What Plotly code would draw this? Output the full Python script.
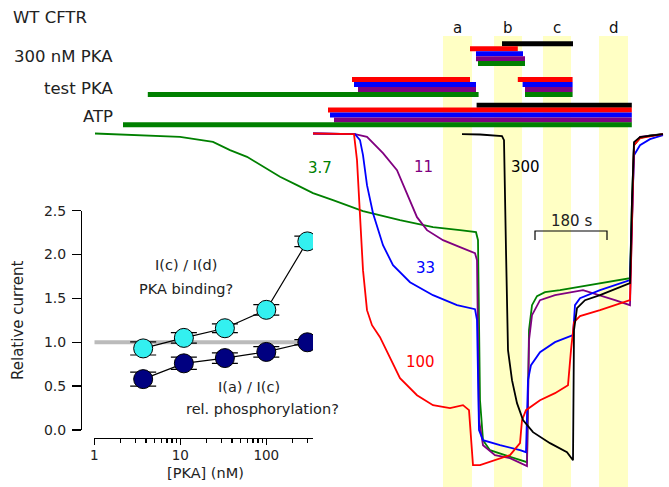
import plotly.graph_objects as go

W, H = 669, 487
FONT = "DejaVu Sans"

# ---------------- time-course traces: time (s), current (nA) ----------------
t_37 = [-70, 60, 142.5, 225, 267.5, 310, 350, 392.5, 435, 475, 525, 600, 692.5, 775, 842.5, 882.5,
        887.5, 892.5, 900, 917.5, 955, 992.5, 1010, 1015, 1022.5, 1035, 1055, 1092.5, 1150, 1192.5,
        1230, 1267.5, 1272.5, 1277.5, 1292.5, 1317.5, 1350]
i_37 = [0, -0.05, -0.10, -0.25, -0.50, -0.70, -1.00, -1.30, -1.55, -1.79, -2.00, -2.33, -2.60, -2.81,
        -2.90, -2.96, -3.20, -8.0, -9.2, -9.5, -9.65, -9.8, -9.86, -5.9, -5.15, -4.88, -4.76, -4.70,
        -4.58, -4.49, -4.40, -4.34, -2.0, -0.35, -0.14, -0.06, -0.02]

t_11 = [475, 580, 610, 650, 685, 710, 735, 760, 800, 842.5, 880, 885, 890, 900, 930, 967.5, 1005,
        1010, 1015, 1022.5, 1042.5, 1080, 1150, 1192.5, 1230, 1267.5, 1272.5, 1277.5, 1292.5, 1350]
i_11 = [0, -0.02, -0.10, -0.59, -1.10, -1.79, -2.51, -2.90, -3.20, -3.41, -3.59, -3.80, -8.60, -9.35,
        -9.65, -9.74, -9.95, -9.98, -6.20, -5.45, -5.00, -4.85, -4.70, -4.85, -5.00, -5.15, -2.30,
        -0.35, -0.10, -0.02]

t_33 = [475, 580, 592.5, 600, 610, 625, 650, 675, 717.5, 775, 835, 880, 885, 890, 900, 942.5, 992.5,
        1007.5, 1012.5, 1020, 1042.5, 1080, 1125, 1130, 1142.5, 1192.5, 1267.5, 1272.5, 1277.5,
        1292.5, 1317.5, 1350]
i_33 = [0, -0.02, -0.20, -0.65, -1.55, -2.39, -3.35, -3.95, -4.46, -4.85, -5.15, -5.27, -5.60, -8.90,
        -9.20, -9.35, -9.50, -9.56, -7.40, -6.95, -6.56, -6.26, -6.05, -5.15, -4.94, -4.70, -4.40,
        -2.30, -0.65, -0.35, -0.17, -0.05]

t_100 = [475, 577.5, 585, 592.5, 600, 610, 622.5, 642.5, 667.5, 692.5, 735, 775, 817.5, 850, 865, 870,
         875, 892.5, 930, 967.5, 992.5, 997.5, 1007.5, 1042.5, 1080, 1112.5, 1120, 1127.5, 1142.5,
         1192.5, 1267.5, 1272.5, 1277.5, 1292.5, 1350]
i_100 = [0, -0.02, -0.80, -2.60, -4.10, -5.30, -5.75, -6.11, -6.74, -7.34, -7.85, -8.15, -8.24, -8.15,
         -8.30, -9.20, -9.95, -9.95, -9.80, -9.65, -9.29, -8.60, -8.30, -8.00, -7.79, -7.55, -6.50,
         -5.66, -5.48, -5.30, -5.00, -2.30, -0.35, -0.14, -0.02]

t_300 = [847.5, 892.5, 947.5, 952.5, 957.5, 962.5, 972.5, 985, 1000, 1025, 1067.5, 1110, 1125, 1127.5,
         1135, 1155, 1192.5, 1267.5, 1272.5, 1277.5, 1292.5, 1350]
i_300 = [-0.02, -0.03, -0.08, -0.20, -3.50, -6.50, -7.40, -8.09, -8.60, -8.96, -9.29, -9.56, -9.80,
         -5.90, -5.24, -5.00, -4.85, -4.49, -2.00, -0.26, -0.11, -0.02]

trace_labels = ["3.7", "11", "33", "100", "300"]
trace_colors = ["#008000", "#800080", "#0000FF", "#FF0000", "#000000"]

# ---------------- solution application intervals (s) ----------------
# order of bars within each group: 300, 100, 33, 11, 3.7
atp_starts = [884, 512.5, 517.5, 527.5, 0]
atp_ends = [1272, 1272, 1272, 1272, 1272]
test_pka_1 = [None, (572.5, 867.5), (577.5, 882.5), (587.5, 882.5), (62, 889)]
test_pka_2 = [None, (987, 1124), (999, 1124), (1005, 1124), (1005, 1124)]
pka300 = [(947.5, 1125), (867.5, 987), (882.5, 1000), (882.5, 1005), (887.5, 1005)]
bar_colors = ["#000000", "#FF0000", "#0000FF", "#800080", "#008000"]

band_names = ["a", "b", "c", "d"]
band_start = [800, 927.5, 1050, 1190]
band_end = [872.5, 997.5, 1120, 1262.5]

scale_bar_s = [1030, 1210]   # 180 s

# ---------------- inset dose-response ----------------
pka_nM = [3.7, 11, 33, 100, 300]
ratio_cd = [0.93, 1.05, 1.16, 1.37, 2.15]
ratio_cd_err = [0.075, 0.06, 0.05, 0.06, 0.06]
ratio_ac = [0.58, 0.76, 0.82, 0.89, 1.00]
ratio_ac_err = [0.08, 0.07, 0.06, 0.06, 0.03]
ref_line_x = [1, 300]
ref_line_y = [1.0, 1.0]


def PX(px):
    return px / W


def PY(py):
    return 1 - py / H


fig = go.Figure()

# main traces
for t, i, c in [(t_37, i_37, trace_colors[0]), (t_11, i_11, trace_colors[1]),
                (t_33, i_33, trace_colors[2]), (t_100, i_100, trace_colors[3]),
                (t_300, i_300, trace_colors[4])]:
    fig.add_trace(go.Scatter(x=t, y=i, mode="lines", line=dict(color=c, width=1.8),
                             xaxis="x", yaxis="y", showlegend=False, hoverinfo="skip"))

# 180 s scale bar
fig.add_trace(go.Scatter(x=[scale_bar_s[0], scale_bar_s[0], scale_bar_s[1], scale_bar_s[1]],
                         y=[-3.195, -2.925, -2.925, -3.195], mode="lines",
                         line=dict(color="black", width=1.2), xaxis="x", yaxis="y",
                         showlegend=False, hoverinfo="skip"))

# inset
fig.add_trace(go.Scatter(x=ref_line_x, y=ref_line_y, mode="lines",
                         line=dict(color="#BBBBBB", width=4), xaxis="x2", yaxis="y2",
                         showlegend=False, hoverinfo="skip"))
for y, e, col in [(ratio_cd, ratio_cd_err, "#33F0F0"), (ratio_ac, ratio_ac_err, "#000080")]:
    fig.add_trace(go.Scatter(x=pka_nM, y=y, mode="lines+markers",
                             line=dict(color="black", width=1.2),
                             marker=dict(size=19, color=col, line=dict(color="black", width=1)),
                             error_y=dict(type="data", array=e, color="black", thickness=1.2, width=13),
                             xaxis="x2", yaxis="y2", showlegend=False, hoverinfo="skip"))

shapes = []
# yellow bands
for s, e in zip(band_start, band_end):
    shapes.append(dict(type="rect", xref="x", yref="paper", x0=s, x1=e, y0=0, y1=PY(36),
                       fillcolor="#FFFFC4", line=dict(width=0), layer="below"))


def bar(x0, x1, top, color, h=5.0):
    shapes.append(dict(type="rect", xref="x", yref="paper", x0=x0, x1=x1,
                       y0=PY(top + h), y1=PY(top), fillcolor=color, line=dict(width=0)))


# 300 nM PKA rows
for k, iv in enumerate(pka300):
    bar(iv[0], iv[1], 41.3 + 4.95 * k, bar_colors[k])
# test PKA rows
row = 0
for k in range(5):
    if test_pka_1[k] is None:
        continue
    top = 77 + 5 * row
    bar(test_pka_1[k][0], test_pka_1[k][1], top, bar_colors[k])
    bar(test_pka_2[k][0], test_pka_2[k][1], top, bar_colors[k])
    row += 1
# ATP rows
for k in range(5):
    bar(atp_starts[k], atp_ends[k], 102.7 + 4.9 * k, bar_colors[k])

ann = []


def text(s, px, py, size=15, color="#222222", xanchor="center", angle=0):
    ann.append(dict(text=s, x=PX(px), y=PY(py), xref="paper", yref="paper", showarrow=False,
                    xanchor=xanchor, yanchor="middle", textangle=angle, borderpad=0,
                    font=dict(family=FONT, size=size, color=color)))


text("WT CFTR", 12, 18, size=16.5, xanchor="left")
text("300 nM PKA", 114, 56, size=16.5, xanchor="right")
text("test PKA", 114, 88, size=16.5, xanchor="right")
text("ATP", 114, 117, size=16.5, xanchor="right")
for n, s, e in zip(band_names, band_start, band_end):
    ann.append(dict(text=n, x=(s + e) / 2, y=PY(28), xref="x", yref="paper", showarrow=False,
                    xanchor="center", yanchor="middle", borderpad=0,
                    font=dict(family=FONT, size=15, color="#111")))
label_pos = [(320, 168), (423, 167), (425, 268), (420, 362), (525, 167)]
for lab, c, (px, py) in zip(trace_labels, trace_colors, label_pos):
    text(lab, px, py, size=15, color=c)
text("180 s", 571, 221, size=15)
text("I(c) / I(d)", 186, 265, size=14.5)
text("PKA binding?", 186, 289, size=14.5)
text("I(a) / I(c)", 249, 387, size=14.5)
text("rel. phosphorylation?", 262, 409, size=14.5)
text("Relative current", 18, 321, size=15, angle=-90)
text("[PKA] (nM)", 205, 473, size=14.5)

fig.update_layout(
    width=W, height=H, margin=dict(l=0, r=0, t=0, b=0, pad=0, autoexpand=False),
    paper_bgcolor="white", plot_bgcolor="rgba(0,0,0,0)",
    font=dict(family=FONT, size=14, color="#222222"),
    showlegend=False,
    xaxis=dict(domain=[0, 1], range=[-307.5, 1365], visible=False, fixedrange=True),
    yaxis=dict(domain=[0, 1], range=[-10.605, 4.005], visible=False, fixedrange=True),
    xaxis2=dict(type="log", domain=[PX(94.3), PX(313)], range=[0, 2.543], anchor="free",
                position=PY(438), showline=True, linecolor="black", linewidth=1.3,
                ticks="outside", ticklen=6, tickwidth=1.3, tickcolor="black",
                tickmode="array", tickvals=[1, 10, 100], ticktext=["1", "10", "100"],
                minor=dict(ticks="outside", ticklen=4, tickwidth=1.2, tickcolor="black",
                           tickmode="array",
                           tickvals=[2, 3, 4, 5, 6, 7, 8, 9, 20, 30, 40, 50, 60, 70, 80, 90, 200, 300]),
                showgrid=False, zeroline=False, tickfont=dict(size=13.5), ticklabelstandoff=-2,
                automargin=False, fixedrange=True),
    yaxis2=dict(domain=[PY(430), PY(210.7)], range=[0, 2.5], anchor="free", position=PX(81),
                showline=True, linecolor="black", linewidth=1.3, ticks="outside", ticklen=9,
                tickwidth=1.3, tickcolor="black", tickmode="array",
                tickvals=[0, 0.5, 1.0, 1.5, 2.0, 2.5],
                ticktext=["0.0", "0.5", "1.0", "1.5", "2.0", "2.5"],
                showgrid=False, zeroline=False, tickfont=dict(size=14), ticklabelstandoff=3,
                automargin=False, fixedrange=True),
    shapes=shapes,
    annotations=ann,
)

fig.write_html("out.html", config={"displayModeBar": False, "staticPlot": True},
               post_script="document.body.style.margin='0px';")
